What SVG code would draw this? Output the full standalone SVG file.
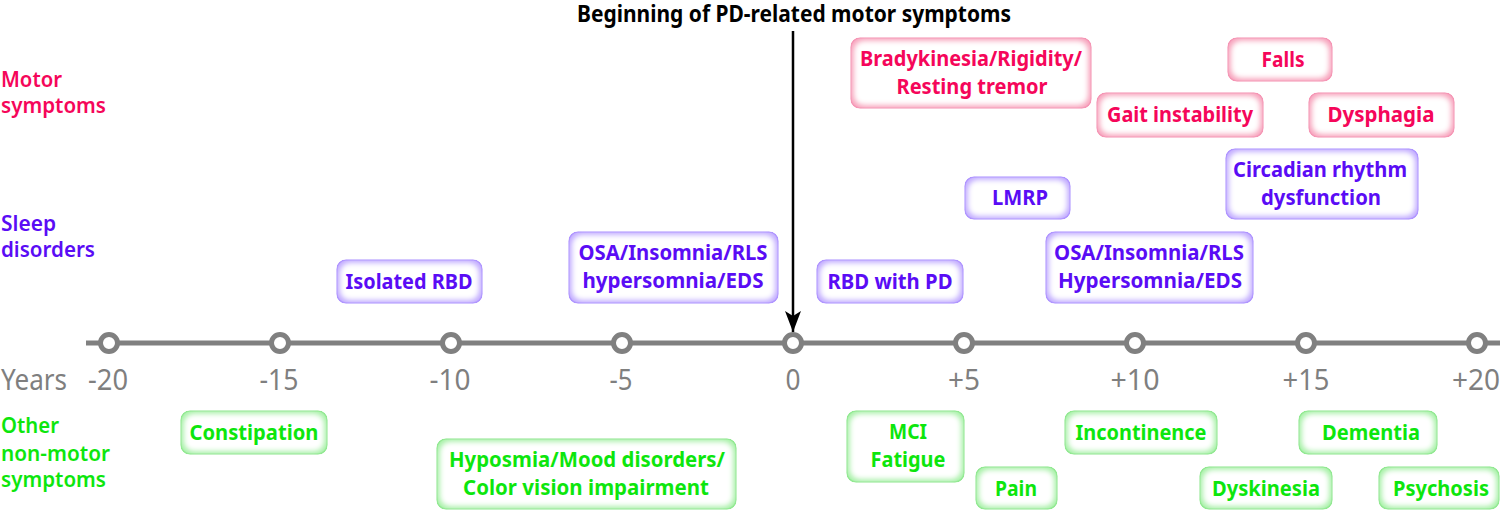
<svg xmlns="http://www.w3.org/2000/svg" width="1501" height="510" viewBox="0 0 1501 510">
<defs>
<style>
text{font-family:"Noto Sans","Open Sans","DejaVu Sans",sans-serif;font-weight:700;font-size:22px;text-anchor:middle}
.m{fill:#f5065a}.s{fill:#5a0cf5}.g{fill:#0de60d}
.lab{text-anchor:start;font-size:21px;font-weight:600}
.yr{fill:#7f7f7f;font-weight:400;font-size:29px}
.bm{fill:#f8a6c0;stroke:#f593b3;stroke-width:1.5}
.bs{fill:#c4adff;stroke:#ad92ff;stroke-width:1.5}
.bg{fill:#aaf2aa;stroke:#8ee88e;stroke-width:1.5}
.box{filter:url(#ig)}
.tick{fill:#fff;stroke:#808080;stroke-width:5}
</style>
<filter id="ig" x="-5%" y="-10%" width="110%" height="120%">
<feMorphology in="SourceAlpha" operator="erode" radius="3.5" result="e"/>
<feGaussianBlur in="e" stdDeviation="2.5" result="b"/>
<feFlood flood-color="#ffffff"/>
<feComposite in2="b" operator="in" result="w"/>
<feMerge><feMergeNode in="SourceGraphic"/><feMergeNode in="w"/></feMerge>
<feComposite in2="SourceAlpha" operator="in"/>
</filter>
<marker id="ah" markerWidth="22" markerHeight="18" refX="21" refY="8" orient="auto" markerUnits="userSpaceOnUse" viewBox="0 0 22 18">
<path d="M0,0 L21,8 L0,16 L5,8 Z" fill="#000"/>
</marker>
</defs>

<g id="title">
<text x="794" y="22" fill="#000" textLength="434" lengthAdjust="spacingAndGlyphs" style="font-size:23px">Beginning of PD-related motor symptoms</text>
</g>

<g id="connectors">
<line x1="86" y1="343" x2="1500" y2="343" stroke="#808080" stroke-width="5"/>
<line x1="793" y1="31" x2="793" y2="332" stroke="#000" stroke-width="2.5" marker-end="url(#ah)"/>
</g>

<g id="axis">
<circle class="tick" cx="109" cy="343" r="8.5"/>
<circle class="tick" cx="280" cy="343" r="8.5"/>
<circle class="tick" cx="451" cy="343" r="8.5"/>
<circle class="tick" cx="622" cy="343" r="8.5"/>
<circle class="tick" cx="793" cy="343" r="8.5"/>
<circle class="tick" cx="964" cy="343" r="8.5"/>
<circle class="tick" cx="1135" cy="343" r="8.5"/>
<circle class="tick" cx="1306" cy="343" r="8.5"/>
<circle class="tick" cx="1477" cy="343" r="8.5"/>
<text class="yr" x="34" y="390" textLength="66" lengthAdjust="spacingAndGlyphs">Years</text>
<text class="yr" x="108" y="390" textLength="40" lengthAdjust="spacingAndGlyphs">-20</text>
<text class="yr" x="279" y="390" textLength="39" lengthAdjust="spacingAndGlyphs">-15</text>
<text class="yr" x="450" y="390" textLength="41" lengthAdjust="spacingAndGlyphs">-10</text>
<text class="yr" x="621" y="390" textLength="23" lengthAdjust="spacingAndGlyphs">-5</text>
<text class="yr" x="793" y="390" textLength="15" lengthAdjust="spacingAndGlyphs">0</text>
<text class="yr" x="964" y="390" textLength="32" lengthAdjust="spacingAndGlyphs">+5</text>
<text class="yr" x="1135" y="390" textLength="49" lengthAdjust="spacingAndGlyphs">+10</text>
<text class="yr" x="1306" y="390" textLength="47" lengthAdjust="spacingAndGlyphs">+15</text>
<text class="yr" x="1476" y="390" textLength="48" lengthAdjust="spacingAndGlyphs">+20</text>
</g>

<g id="category-labels">
<text class="lab m" x="1" y="87" textLength="61" lengthAdjust="spacingAndGlyphs">Motor</text>
<text class="lab m" x="1" y="113" textLength="105" lengthAdjust="spacingAndGlyphs">symptoms</text>
<text class="lab s" x="1" y="231" textLength="55" lengthAdjust="spacingAndGlyphs">Sleep</text>
<text class="lab s" x="1" y="257" textLength="94" lengthAdjust="spacingAndGlyphs">disorders</text>
<text class="lab g" x="1" y="433" textLength="58" lengthAdjust="spacingAndGlyphs">Other</text>
<text class="lab g" x="1" y="461" textLength="109" lengthAdjust="spacingAndGlyphs">non-motor</text>
<text class="lab g" x="1" y="487" textLength="105" lengthAdjust="spacingAndGlyphs">symptoms</text>
</g>

<g id="n-bradykinesia">
<rect class="box bm" x="851" y="38" width="240" height="70" rx="9"/>
<text class="m" x="971" y="66" textLength="222" lengthAdjust="spacingAndGlyphs">Bradykinesia/Rigidity/</text>
<text class="m" x="972" y="94" textLength="151" lengthAdjust="spacingAndGlyphs">Resting tremor</text>
</g>
<g id="n-falls">
<rect class="box bm" x="1228" y="38" width="104" height="43" rx="9"/>
<text class="m" x="1283" y="67" textLength="43" lengthAdjust="spacingAndGlyphs">Falls</text>
</g>
<g id="n-gait">
<rect class="box bm" x="1097" y="93" width="166" height="44" rx="9"/>
<text class="m" x="1180" y="122" textLength="146" lengthAdjust="spacingAndGlyphs">Gait instability</text>
</g>
<g id="n-dysphagia">
<rect class="box bm" x="1309" y="93" width="145" height="44" rx="9"/>
<text class="m" x="1381" y="122" textLength="107" lengthAdjust="spacingAndGlyphs">Dysphagia</text>
</g>

<g id="n-circadian">
<rect class="box bs" x="1226" y="149" width="192" height="70" rx="9"/>
<text class="s" x="1320" y="177" textLength="174" lengthAdjust="spacingAndGlyphs">Circadian rhythm</text>
<text class="s" x="1321" y="205" textLength="120" lengthAdjust="spacingAndGlyphs">dysfunction</text>
</g>
<g id="n-lmrp">
<rect class="box bs" x="965" y="177" width="105" height="42" rx="9"/>
<text class="s" x="1020" y="205" textLength="56" lengthAdjust="spacingAndGlyphs">LMRP</text>
</g>
<g id="n-osa-late">
<rect class="box bs" x="1046" y="232" width="207" height="71" rx="9"/>
<text class="s" x="1149" y="260" textLength="190" lengthAdjust="spacingAndGlyphs">OSA/Insomnia/RLS</text>
<text class="s" x="1150" y="288" textLength="184" lengthAdjust="spacingAndGlyphs">Hypersomnia/EDS</text>
</g>
<g id="n-rbd-pd">
<rect class="box bs" x="817" y="260" width="146" height="43" rx="9"/>
<text class="s" x="890" y="289" textLength="125" lengthAdjust="spacingAndGlyphs">RBD with PD</text>
</g>
<g id="n-osa-early">
<rect class="box bs" x="569" y="232" width="209" height="71" rx="9"/>
<text class="s" x="673" y="260" textLength="189" lengthAdjust="spacingAndGlyphs">OSA/Insomnia/RLS</text>
<text class="s" x="673" y="288" textLength="181" lengthAdjust="spacingAndGlyphs">hypersomnia/EDS</text>
</g>
<g id="n-isolated-rbd">
<rect class="box bs" x="337" y="260" width="145" height="43" rx="9"/>
<text class="s" x="409" y="289" textLength="127" lengthAdjust="spacingAndGlyphs">Isolated RBD</text>
</g>

<g id="n-constipation">
<rect class="box bg" x="181" y="411" width="146" height="43" rx="9"/>
<text class="g" x="254" y="440" textLength="129" lengthAdjust="spacingAndGlyphs">Constipation</text>
</g>
<g id="n-hyposmia">
<rect class="box bg" x="437" y="439" width="299" height="70" rx="9"/>
<text class="g" x="587" y="467" textLength="276" lengthAdjust="spacingAndGlyphs">Hyposmia/Mood disorders/</text>
<text class="g" x="586" y="495" textLength="246" lengthAdjust="spacingAndGlyphs">Color vision impairment</text>
</g>
<g id="n-mci">
<rect class="box bg" x="847" y="411" width="117" height="71" rx="9"/>
<text class="g" x="908" y="439" textLength="38" lengthAdjust="spacingAndGlyphs">MCI</text>
<text class="g" x="908" y="467" textLength="75" lengthAdjust="spacingAndGlyphs">Fatigue</text>
</g>
<g id="n-pain">
<rect class="box bg" x="976" y="467" width="81" height="42" rx="9"/>
<text class="g" x="1016" y="496" textLength="42" lengthAdjust="spacingAndGlyphs">Pain</text>
</g>
<g id="n-incontinence">
<rect class="box bg" x="1065" y="411" width="152" height="43" rx="9"/>
<text class="g" x="1141" y="440" textLength="131" lengthAdjust="spacingAndGlyphs">Incontinence</text>
</g>
<g id="n-dementia">
<rect class="box bg" x="1299" y="411" width="138" height="43" rx="9"/>
<text class="g" x="1371" y="440" textLength="98" lengthAdjust="spacingAndGlyphs">Dementia</text>
</g>
<g id="n-dyskinesia">
<rect class="box bg" x="1200" y="467" width="132" height="42" rx="9"/>
<text class="g" x="1266" y="496" textLength="108" lengthAdjust="spacingAndGlyphs">Dyskinesia</text>
</g>
<g id="n-psychosis">
<rect class="box bg" x="1379" y="467" width="120" height="42" rx="9"/>
<text class="g" x="1441" y="496" textLength="96" lengthAdjust="spacingAndGlyphs">Psychosis</text>
</g>
</svg>
